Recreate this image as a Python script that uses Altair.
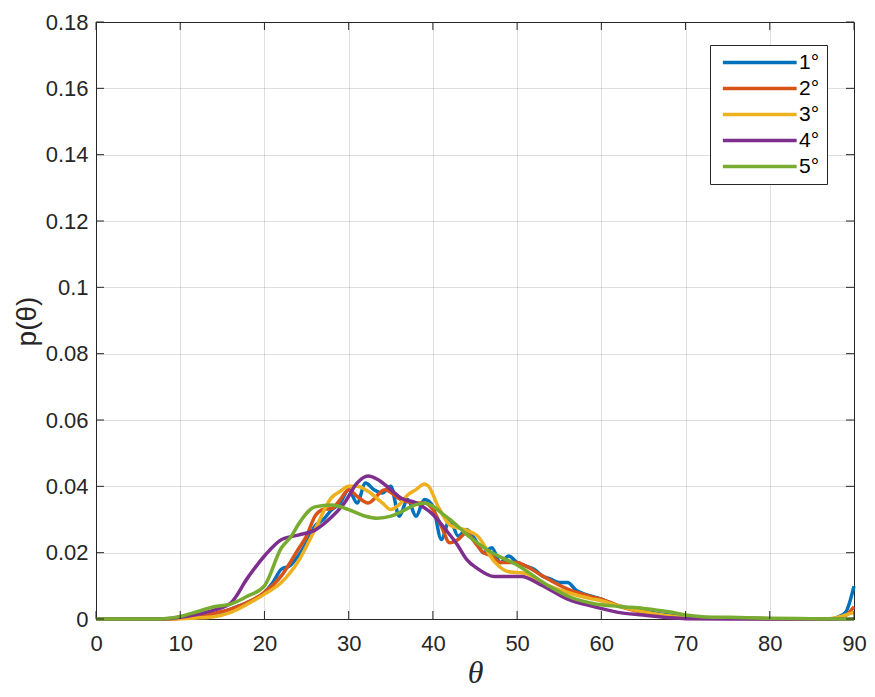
import altair as alt
import pandas as pd

series_names = ["1°", "2°", "3°", "4°", "5°"]
colors = ["#0072BD", "#D95319", "#EDB120", "#7E2F8E", "#77AC30"]

x1 = [0, 8, 10, 12, 14, 16, 18, 20, 21, 22, 23, 24, 25, 26, 27, 28, 29, 30, 31, 32, 33, 34, 35, 36,
      37, 38, 39, 40, 41, 42, 43, 44, 45, 46, 47, 48, 49, 50, 51, 52, 53, 54, 55, 56, 57, 58, 60, 62,
      64, 66, 68, 70, 75, 80, 87, 88, 89, 90]
y1 = [0, 0, 0.0002, 0.0005, 0.0013, 0.003, 0.005, 0.008, 0.011, 0.015, 0.016, 0.019, 0.023, 0.028,
      0.030, 0.033, 0.035, 0.039, 0.035, 0.041, 0.039, 0.038, 0.040, 0.031, 0.036, 0.031, 0.036, 0.034,
      0.024, 0.030, 0.025, 0.027, 0.024, 0.020, 0.0215, 0.017, 0.019, 0.017, 0.016, 0.015, 0.013, 0.012,
      0.011, 0.011, 0.0087, 0.0075, 0.006, 0.004, 0.003, 0.002, 0.0012, 0.0006, 0.0003, 0.0001, 0,
      0.0005, 0.002, 0.0099]

x2 = [0, 8, 10, 12, 14, 16, 18, 20, 22, 24, 25, 26, 27, 28, 29, 30, 31, 32.3, 34.3, 36.2, 38, 39, 40,
      41, 42, 43, 44, 45, 46, 47, 48, 50, 51, 53, 56, 59, 60, 62, 65, 70, 75, 80, 88, 89, 90]
y2 = [0, 0, 0.0002, 0.0005, 0.0017, 0.003, 0.005, 0.008, 0.013, 0.021, 0.025, 0.031, 0.033, 0.0333,
      0.036, 0.039, 0.037, 0.035, 0.039, 0.036, 0.035, 0.035, 0.033, 0.028, 0.023, 0.024, 0.026, 0.023,
      0.020, 0.019, 0.017, 0.017, 0.016, 0.013, 0.009, 0.0066, 0.006, 0.004, 0.002, 0.0005, 0.0002,
      0.0001, 0.0001, 0.001, 0.0037]

x3 = [0, 8, 10, 12, 14, 16, 18, 20, 22, 24, 26, 28, 29, 30, 31, 32.3, 34, 35, 36, 37, 38, 39, 39.5,
      40.6, 42.1, 44.1, 45.3, 47.3, 48.9, 50.9, 52.9, 56, 59, 60, 62, 65, 70, 75, 80, 87, 88, 89, 90]
y3 = [0, 0, 0.0001, 0.0003, 0.0007, 0.002, 0.0045, 0.0075, 0.011, 0.0173, 0.027, 0.0367, 0.0385,
      0.040, 0.040, 0.0385, 0.035, 0.033, 0.0345, 0.0374, 0.039, 0.0407, 0.040, 0.034, 0.0282, 0.0267,
      0.025, 0.0173, 0.0143, 0.0138, 0.011, 0.008, 0.006, 0.0055, 0.004, 0.0022, 0.0005, 0.0002,
      0.0001, 0.0001, 0.0005, 0.0012, 0.002]

x4 = [0, 8, 10, 12, 14, 16, 18, 20, 22, 24, 26, 28, 29.5, 31, 32.3, 33.5, 35, 36.2, 38, 40, 41.5,
      42.9, 44, 45.3, 47.3, 50.5, 52.9, 56, 59.2, 62, 65, 68, 70, 75, 90]
y4 = [0, 0, 0.0005, 0.0014, 0.0027, 0.0048, 0.0124, 0.019, 0.0239, 0.0253, 0.0268, 0.0308, 0.035,
      0.041, 0.0431, 0.042, 0.039, 0.0365, 0.035, 0.0315, 0.027, 0.0224, 0.018, 0.0152, 0.0128, 0.0128,
      0.0102, 0.006, 0.0037, 0.002, 0.0012, 0.0004, 0.0001, 0, 0]

x5 = [0, 7, 8, 10, 12, 14, 16, 18, 20, 22, 23.2, 24, 26, 28, 30, 32, 33.4, 35, 36.2, 38, 39, 40, 41.3,
      42.5, 44.1, 46.8, 50, 53.6, 56.7, 59, 62, 65, 68, 70, 72, 75, 80, 85, 90]
y5 = [0, 0, 0.0001, 0.0008, 0.0022, 0.0037, 0.0045, 0.0069, 0.010, 0.0214, 0.025, 0.0284, 0.0338,
      0.0344, 0.033, 0.031, 0.0304, 0.031, 0.0323, 0.0345, 0.035, 0.034, 0.0314, 0.029, 0.0253, 0.0203,
      0.0163, 0.0102, 0.0062, 0.0047, 0.0038, 0.0032, 0.0022, 0.0012, 0.0007, 0.0005, 0.0002, 0.0001, 0]

x_ticks = [0, 10, 20, 30, 40, 50, 60, 70, 80, 90]
y_ticks = [0, 0.02, 0.04, 0.06, 0.08, 0.1, 0.12, 0.14, 0.16, 0.18]

frames = []
for name, xs, ys in zip(series_names, [x1, x2, x3, x4, x5], [y1, y2, y3, y4, y5]):
    frames.append(pd.DataFrame({"theta": xs, "p": ys, "series": name}))
df = pd.concat(frames, ignore_index=True)

FONT = "Liberation Sans"
INK = "#262626"
W, H = 758, 597

xscale = alt.Scale(domain=[0, 90], nice=False)
yscale = alt.Scale(domain=[0, 0.18], nice=False)

lines = alt.Chart(df).mark_line(strokeWidth=3.5, interpolate="monotone").encode(
    x=alt.X("theta:Q", scale=xscale,
            axis=alt.Axis(values=x_ticks, title="θ", ticks=False, labelPadding=14,
                          labelFlush=False, labelOverlap=False,
                          labelFontSize=22, labelFont=FONT, labelColor=INK,
                          titleFont="Liberation Serif", titleFontStyle="italic",
                          titleFontWeight="normal", titleFontSize=32, titleColor=INK,
                          titleY=63, titleBaseline="alphabetic",
                          grid=True, gridColor=INK, gridOpacity=0.15,
                          domainColor=INK)),
    y=alt.Y("p:Q", scale=yscale,
            axis=alt.Axis(values=y_ticks, format="~g", title="p(θ)", ticks=False,
                          labelFlush=False, labelOverlap=False,
                          labelPadding=8, labelFontSize=22, labelFont=FONT, labelColor=INK,
                          titleFont=FONT, titleFontWeight="normal", titleFontSize=28,
                          titleColor=INK, titleX=-55, titleY=299,
                          grid=True, gridColor=INK, gridOpacity=0.15,
                          domainColor=INK)),
    color=alt.Color("series:N", scale=alt.Scale(domain=series_names, range=colors),
                    legend=alt.Legend(title=None, orient="none", legendX=614, legendY=23,
                                      symbolType="M-1,0H15", symbolSize=85,
                                      symbolStrokeWidth=3.5, labelFontSize=21, labelFont=FONT,
                                      labelColor="#000000", strokeColor=INK, fillColor="white",
                                      padding=7, rowPadding=4, labelOffset=61,
                                      symbolOffset=0)),
    order=alt.Order("series:N"),
)

xt = pd.DataFrame({"theta": x_ticks})
yt = pd.DataFrame({"p": y_ticks})

xt_bottom = alt.Chart(xt).mark_rule(color=INK, strokeWidth=1).encode(
    x=alt.X("theta:Q", scale=xscale), y=alt.value(H), y2=alt.value(H - 8))
xt_top = alt.Chart(xt).mark_rule(color=INK, strokeWidth=1).encode(
    x=alt.X("theta:Q", scale=xscale), y=alt.value(0), y2=alt.value(8))
yt_left = alt.Chart(yt).mark_rule(color=INK, strokeWidth=1).encode(
    y=alt.Y("p:Q", scale=yscale), x=alt.value(0), x2=alt.value(8))
yt_right = alt.Chart(yt).mark_rule(color=INK, strokeWidth=1).encode(
    y=alt.Y("p:Q", scale=yscale), x=alt.value(W), x2=alt.value(W - 8))

chart = alt.layer(lines, xt_bottom, xt_top, yt_left, yt_right).properties(
    width=W, height=H,
    autosize=alt.AutoSizeParams(type="none"),
    padding={"left": 88, "top": 14, "right": 13, "bottom": 70},
    background="white",
).configure_view(stroke=INK, strokeWidth=1)

chart.save("out.html", embed_options={"renderer": "svg", "actions": False})
